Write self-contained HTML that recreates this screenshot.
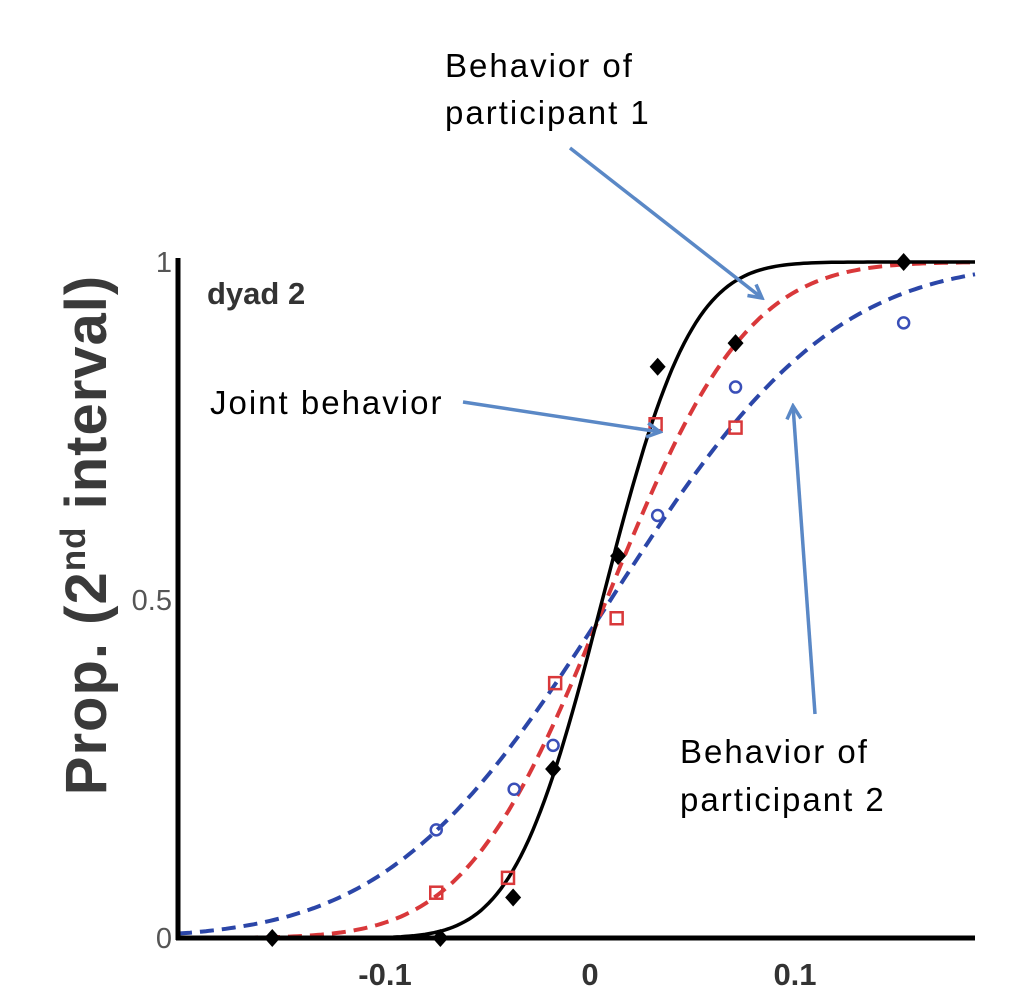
<!DOCTYPE html>
<html><head><meta charset="utf-8"><style>
html,body{margin:0;padding:0;background:#fff;}
svg{display:block;font-family:"Liberation Sans",sans-serif;}
</style></head><body>
<svg width="1012" height="1006" viewBox="0 0 1012 1006">
<defs>
<marker id="ah" markerWidth="18" markerHeight="18" refX="15" refY="9" orient="auto" markerUnits="userSpaceOnUse" viewBox="0 0 18 18">
<path d="M2,2 L15,9 L2,16" fill="none" stroke="#5a88c6" stroke-width="3.5"/>
</marker>
</defs>
<g id="plot"></g>
<g id="axes"></g>
<text x="207" y="304" font-size="31" font-weight="bold" fill="#333">dyad 2</text>
<text transform="translate(106,535) rotate(-90)" text-anchor="middle" font-size="58" font-weight="bold" fill="#3a3a3a" letter-spacing="1">Prop. (2<tspan font-size="35" dy="-21">nd</tspan><tspan dy="21"> interval)</tspan></text>
<g font-size="33" fill="#000" letter-spacing="2">
<text x="445" y="77"><tspan x="445">Behavior of</tspan><tspan x="445" dy="47">participant 1</tspan></text>
<text x="210" y="414">Joint behavior</text>
<text x="680" y="763"><tspan x="680">Behavior of</tspan><tspan x="680" dy="48">participant 2</tspan></text>
</g>
<g stroke="#5a88c6" stroke-width="3.5" fill="none">
<line x1="570" y1="148" x2="762" y2="298" marker-end="url(#ah)"/>
<line x1="463" y1="402" x2="660" y2="432" marker-end="url(#ah)"/>
<line x1="815" y1="714" x2="793" y2="406" marker-end="url(#ah)"/>
</g>
</svg>
<script>
const jointX=[-0.155,-0.073,-0.0375,-0.018,0.0137,0.033,0.071,0.153];
const jointY=[0,0,0.06,0.25,0.565,0.845,0.88,1.0];
const p1X=[-0.075,-0.04,-0.017,0.013,0.032,0.071];
const p1Y=[0.067,0.089,0.377,0.473,0.76,0.755];
const p2X=[-0.075,-0.037,-0.018,0.033,0.071,0.153];
const p2Y=[0.16,0.22,0.285,0.625,0.815,0.91];
const fitMu=[0.006,0.008,0.01];
const fitSigma=[0.034,0.054,0.085];
const xTicks=[-0.1,0,0.1];
const xTickLabels=["-0.1","0","0.1"];
const yTicks=[0,0.5,1];
const yTickLabels=["0","0.5","1"];

const NS="http://www.w3.org/2000/svg";
const X0=178,X1=975,Y0=938,Y1=262;
function sx(v){return 590+v*2050;}
function sy(v){return Y0-(Y0-Y1)*v;}
function erf(x){const s=Math.sign(x);x=Math.abs(x);const t=1/(1+0.3275911*x);
return s*(1-(((((1.061405429*t-1.453152027)*t)+1.421413741)*t-0.284496736)*t+0.254829592)*t*Math.exp(-x*x));}
function cdf(x,m,s){return 0.5*(1+erf((x-m)/(s*Math.SQRT2)));}
function mk(tag,attrs,parent){const e=document.createElementNS(NS,tag);for(const k in attrs)e.setAttribute(k,attrs[k]);parent.appendChild(e);return e;}
const plot=document.getElementById('plot'),axes=document.getElementById('axes');
const xmin=(X0-590)/2050,xmax=(X1-590)/2050;
const styles=[{c:"#000",w:3.5,d:""},{c:"#d9383a",w:4,d:"14 8"},{c:"#2b46a8",w:4,d:"14 8"}];
const names=['joint-fit-curve','participant1-fit-curve','participant2-fit-curve'];
for(let i=2;i>=0;i--){let d="";for(let k=0;k<=200;k++){const x=xmin+(xmax-xmin)*k/200;d+=(k?"L":"M")+sx(x).toFixed(1)+","+sy(cdf(x,fitMu[i],fitSigma[i])).toFixed(1);}
const p=mk('path',{d:d,fill:"none",stroke:styles[i].c,"stroke-width":styles[i].w,"stroke-dasharray":styles[i].d},plot);

}
p1X.forEach((x,i)=>{const r=mk('rect',{x:sx(x)-6,y:sy(p1Y[i])-6,width:12,height:12,fill:"none",stroke:"#d9383a","stroke-width":2.5},plot);

});
p2X.forEach((x,i)=>{const c=mk('circle',{cx:sx(x),cy:sy(p2Y[i]),r:5.5,fill:"none",stroke:"#3a4fb8","stroke-width":2.5},plot);

});
jointX.forEach((x,i)=>{const X=sx(x),Y=sy(jointY[i]);const c=mk('path',{d:`M${X},${Y-9}L${X+8},${Y}L${X},${Y+9}L${X-8},${Y}Z`,fill:"#000"},plot);

});
const ya=mk('line',{x1:X0,y1:Y1-4,x2:X0,y2:Y0+2,stroke:"#000","stroke-width":5},axes);


const xa=mk('line',{x1:X0-2,y1:Y0,x2:X1,y2:Y0,stroke:"#000","stroke-width":5},axes);


xTicks.forEach((v,i)=>{const t=mk('text',{x:sx(v),y:985,"text-anchor":"middle","font-size":31,"font-weight":"bold",fill:"#333"},axes);t.textContent=xTickLabels[i];

});
yTicks.forEach((v,i)=>{const t=mk('text',{x:172,y:sy(v)+10,"text-anchor":"end","font-size":29,fill:"#555"},axes);t.textContent=yTickLabels[i];

});
</script>
</body></html>
